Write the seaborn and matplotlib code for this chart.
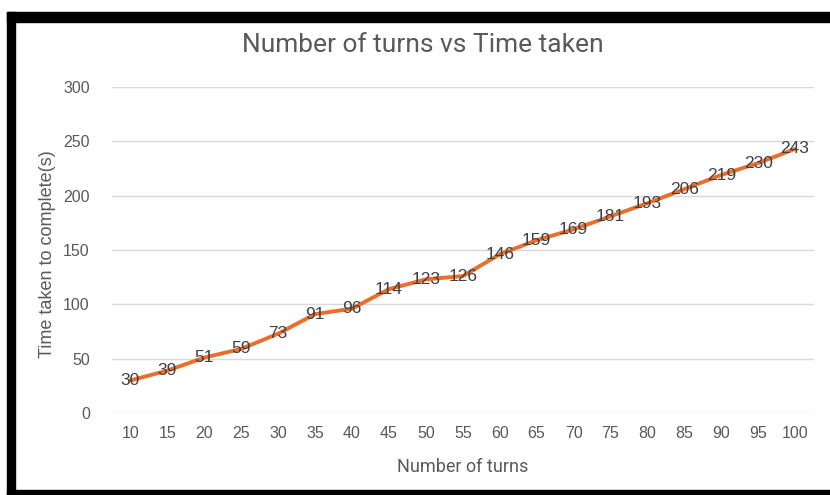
import numpy as np
import pandas as pd
import seaborn as sns
from matplotlib import pyplot as plt
from matplotlib.patches import Rectangle

# data
turns = [10, 15, 20, 25, 30, 35, 40, 45, 50, 55, 60, 65, 70, 75, 80, 85, 90, 95, 100]
times = [30, 39, 51, 59, 73, 91, 96, 114, 123, 126, 146, 159, 169, 181, 193, 206, 219, 230, 243]
y_ticks = [0, 50, 100, 150, 200, 250, 300]

df = pd.DataFrame({"turns": turns, "time": times})

sns.set_theme(style="white")
plt.rcParams['font.family'] = ['Liberation Sans', 'DejaVu Sans']

W, H = 830, 495
fig = plt.figure(figsize=(W / 100, H / 100), dpi=100)
ax = fig.add_axes([112 / W, 1 - 413 / H, (813.5 - 112) / W, (413 - 87) / H])

# gridlines
for v in y_ticks:
    ax.axhline(v, color="#d9d9d9", lw=1.0, zorder=0)

sns.lineplot(data=df, x="turns", y="time", ax=ax, color="#eb6e2c", lw=2.8,
             solid_capstyle="round", zorder=2)

for t, v in zip(turns, times):
    ax.text(t, v, str(v), ha="center", va="center", fontsize=12.5,
            color="#404040", zorder=3)

ax.set_xlim(turns[0] - 2.5, turns[-1] + 2.5)
ax.set_ylim(0, 300)
ax.set_xticks(turns)
ax.set_yticks(y_ticks)
ax.tick_params(axis="both", length=0, labelsize=11.5, labelcolor="#595959")
ax.tick_params(axis="y", pad=16)
ax.tick_params(axis="x", pad=9)
for s in ax.spines.values():
    s.set_visible(False)
ax.set_xlabel("")
ax.set_ylabel("")

lab_font = ['Roboto', 'Liberation Sans']
fig.text(423 / W, 1 - 45 / H, "Number of turns vs Time taken", ha="center", va="center",
         fontsize=19, color="#595959", family=lab_font)
fig.text(463 / W, 1 - 467 / H, "Number of turns", ha="center", va="center",
         fontsize=13, color="#595959", family=lab_font)
fig.text(47 / W, 1 - 254 / H, "Time taken to complete(s)", ha="center", va="center",
         rotation=90, fontsize=13, color="#595959")

# black screenshot frame
fig.add_artist(Rectangle((7 / W, 0), 8 / W, 1 - 12 / H, transform=fig.transFigure,
                         color="black", zorder=5))
fig.add_artist(Rectangle((7 / W, 1 - 22 / H), 1, 10 / H, transform=fig.transFigure,
                         color="black", zorder=5))
fig.add_artist(Rectangle((7 / W, 0), 1, 5 / H, transform=fig.transFigure,
                         color="black", zorder=5))

fig.savefig("out.png", dpi=100, facecolor="white")
